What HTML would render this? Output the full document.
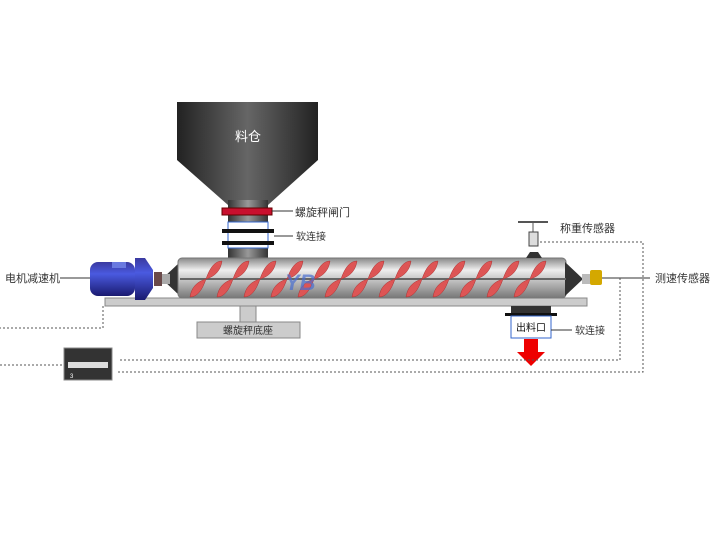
<!DOCTYPE html>
<html><head><meta charset="utf-8"><style>body{margin:0;background:#fff}svg{display:block}text{font-family:"Liberation Sans","Noto Sans CJK SC",sans-serif}</style></head>
<body>
<svg width="720" height="540" viewBox="0 0 720 540">
<defs>
<linearGradient id="hop" x1="0" x2="1"><stop offset="0" stop-color="#222"/><stop offset=".5" stop-color="#666"/><stop offset="1" stop-color="#222"/></linearGradient>
<linearGradient id="tube" x1="0" y1="0" x2="0" y2="1"><stop offset="0" stop-color="#888"/><stop offset=".3" stop-color="#eee"/><stop offset=".6" stop-color="#bbb"/><stop offset="1" stop-color="#777"/></linearGradient>
<linearGradient id="motor" x1="0" y1="0" x2="0" y2="1"><stop offset="0" stop-color="#3a3aa0"/><stop offset=".35" stop-color="#4a5ae0"/><stop offset="1" stop-color="#1a1a70"/></linearGradient>
<linearGradient id="neck" x1="0" x2="1"><stop offset="0" stop-color="#333"/><stop offset=".5" stop-color="#999"/><stop offset="1" stop-color="#333"/></linearGradient>
</defs>
<path d="M177 102 H318 V160 L268 205 H228 L177 160 Z" fill="url(#hop)"/>
<text x="248" y="141" font-size="13" fill="#fff" text-anchor="middle">料仓</text>
<rect x="228" y="200" width="40" height="60" fill="url(#neck)"/>
<rect x="222" y="208" width="50" height="7" fill="#c8102e" stroke="#600" stroke-width="1"/>
<line x1="272" y1="211" x2="293" y2="211" stroke="#333"/>
<text x="295" y="216" font-size="11" fill="#333">螺旋秤闸门</text>
<rect x="228" y="222" width="40" height="26" fill="#fff" stroke="#36c" stroke-width="1"/>
<rect x="222" y="229" width="52" height="4" fill="#111"/>
<rect x="222" y="241" width="52" height="4" fill="#111"/>
<line x1="274" y1="236" x2="293" y2="236" stroke="#333"/>
<text x="296" y="240" font-size="10" fill="#333">软连接</text>
<rect x="105" y="298" width="482" height="8" fill="#ccc" stroke="#888"/>
<rect x="240" y="306" width="16" height="16" fill="#ccc" stroke="#888"/>
<rect x="197" y="322" width="103" height="16" fill="#ccc" stroke="#888"/>
<text x="248" y="334" font-size="10" fill="#333" text-anchor="middle">螺旋秤底座</text>
<path d="M162 279 L180 262 V296 Z" fill="#333"/>
<rect x="178" y="258" width="388" height="40" rx="4" fill="url(#tube)" stroke="#777"/>
<path d="M565 262 L583 279 L565 296 Z" fill="#333"/>
<line x1="180" y1="279" x2="566" y2="279" stroke="#666" stroke-width="2"/>
<g fill="#d55" stroke="#a33" stroke-width=".5">
<path d="M206 279 q6 -18 16 -18 q-2 14 -16 18z M206 279 q-6 18 -16 18 q2 -14 16 -18z" transform="translate(0,0)"/>
<path d="M206 279 q6 -18 16 -18 q-2 14 -16 18z M206 279 q-6 18 -16 18 q2 -14 16 -18z" transform="translate(27,0)"/>
<path d="M206 279 q6 -18 16 -18 q-2 14 -16 18z M206 279 q-6 18 -16 18 q2 -14 16 -18z" transform="translate(54,0)"/>
<path d="M206 279 q6 -18 16 -18 q-2 14 -16 18z M206 279 q-6 18 -16 18 q2 -14 16 -18z" transform="translate(81,0)"/>
<path d="M206 279 q6 -18 16 -18 q-2 14 -16 18z M206 279 q-6 18 -16 18 q2 -14 16 -18z" transform="translate(108,0)"/>
<path d="M206 279 q6 -18 16 -18 q-2 14 -16 18z M206 279 q-6 18 -16 18 q2 -14 16 -18z" transform="translate(135,0)"/>
<path d="M206 279 q6 -18 16 -18 q-2 14 -16 18z M206 279 q-6 18 -16 18 q2 -14 16 -18z" transform="translate(162,0)"/>
<path d="M206 279 q6 -18 16 -18 q-2 14 -16 18z M206 279 q-6 18 -16 18 q2 -14 16 -18z" transform="translate(189,0)"/>
<path d="M206 279 q6 -18 16 -18 q-2 14 -16 18z M206 279 q-6 18 -16 18 q2 -14 16 -18z" transform="translate(216,0)"/>
<path d="M206 279 q6 -18 16 -18 q-2 14 -16 18z M206 279 q-6 18 -16 18 q2 -14 16 -18z" transform="translate(243,0)"/>
<path d="M206 279 q6 -18 16 -18 q-2 14 -16 18z M206 279 q-6 18 -16 18 q2 -14 16 -18z" transform="translate(270,0)"/>
<path d="M206 279 q6 -18 16 -18 q-2 14 -16 18z M206 279 q-6 18 -16 18 q2 -14 16 -18z" transform="translate(297,0)"/>
<path d="M206 279 q6 -18 16 -18 q-2 14 -16 18z M206 279 q-6 18 -16 18 q2 -14 16 -18z" transform="translate(324,0)"/>
</g>
<text x="285" y="290" font-size="22" font-weight="bold" font-style="italic" fill="#4a6fd0" opacity=".7">YB</text>
<line x1="60" y1="278" x2="90" y2="278" stroke="#333"/>
<text x="5" y="282" font-size="11" fill="#333">电机减速机</text>
<rect x="90" y="262" width="45" height="34" rx="8" fill="url(#motor)"/>
<rect x="112" y="262" width="14" height="6" fill="#6a7ae0"/>
<path d="M135 258 H145 L153 270 V288 L145 300 H135 Z" fill="url(#motor)"/>
<rect x="154" y="272" width="8" height="14" fill="#6a4a4a"/>
<rect x="162" y="274" width="8" height="10" fill="#aaa"/>
<rect x="582" y="274" width="8" height="10" fill="#bbb"/>
<rect x="590" y="270" width="12" height="15" rx="2" fill="#d4a800"/>
<line x1="602" y1="278" x2="650" y2="278" stroke="#333"/>
<text x="655" y="282" font-size="11" fill="#333">测速传感器</text>
<line x1="518" y1="222" x2="548" y2="222" stroke="#555" stroke-width="2"/>
<line x1="533" y1="222" x2="533" y2="232" stroke="#555"/>
<rect x="529" y="232" width="9" height="14" fill="#ddd" stroke="#444"/>
<path d="M526 258 L530 252 H538 L542 258Z" fill="#333"/>
<text x="560" y="232" font-size="11" fill="#333">称重传感器</text>
<rect x="511" y="306" width="40" height="8" fill="#333"/>
<rect x="505" y="313" width="52" height="3" fill="#111"/>
<rect x="511" y="316" width="40" height="22" fill="#fff" stroke="#36c"/>
<text x="531" y="331" font-size="10" fill="#111" text-anchor="middle">出料口</text>
<line x1="551" y1="330" x2="572" y2="330" stroke="#333"/>
<text x="575" y="334" font-size="10" fill="#333">软连接</text>
<path d="M524 339 H538 V352 H545 L531 366 L517 352 H524 Z" fill="#e00"/>
<rect x="64" y="348" width="48" height="32" fill="#333" stroke="#888"/>
<rect x="68" y="362" width="40" height="6" fill="#ddd"/>
<text x="70" y="378" font-size="6" fill="#fff">3</text>
<g fill="none" stroke="#555" stroke-dasharray="2,2">
<path d="M103 306 V328 H0"/>
<path d="M0 365 H64"/>
<path d="M540 242 H643 V372 H118"/>
<path d="M620 278 V360 H118"/>
</g>
</svg>
</body></html>
